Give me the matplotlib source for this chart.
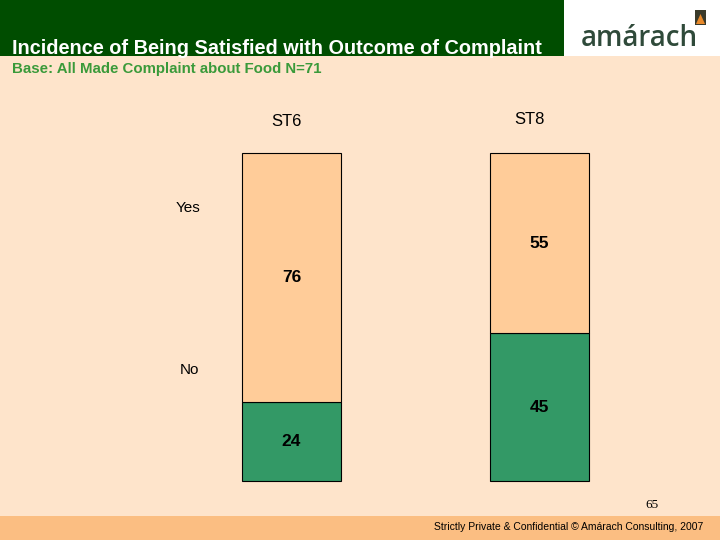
import matplotlib
matplotlib.use("Agg")
import matplotlib.pyplot as plt
from matplotlib.patches import Rectangle, Polygon

categories = ["ST6", "ST8"]
no_vals = [24, 45]
yes_vals = [76, 55]
series_names = ["Yes", "No"]

title = "Incidence of Being Satisfied with Outcome of Complaint"
subtitle = "Base: All Made Complaint about Food N=71"
footer = "Strictly Private & Confidential \u00a9 Am\u00e1rach Consulting, 2007"
page_no = "65"

BG = "#FEE4CB"
YES_C = "#FFCC99"
NO_C = "#339966"
HDR = "#004D00"

plt.rcParams['font.family'] = ['Liberation Sans', 'DejaVu Sans']
fig = plt.figure(figsize=(7.2, 5.4), dpi=100)
fig.patch.set_facecolor(BG)

W, H = 720, 540
def fx(p): return p / W
def fy(p): return 1 - p / H

# header
fig.patches.append(Rectangle((0, fy(56)), fx(564), 56 / H, transform=fig.transFigure,
                             facecolor=HDR, edgecolor="none", zorder=0))
fig.patches.append(Rectangle((fx(564), fy(56)), fx(156), 56 / H, transform=fig.transFigure,
                             facecolor="white", edgecolor="none", zorder=0))
# footer band
fig.patches.append(Rectangle((0, 0), 1, 24 / H, transform=fig.transFigure,
                             facecolor="#FBBE82", edgecolor="none", zorder=0))

fig.text(fx(12), fy(48), title, color="white", fontsize=14.3, fontweight="bold",
         va="center", ha="left")
fig.text(fx(12), fy(69), subtitle, color="#3A9A3A", fontsize=10.8, fontweight="bold",
         va="center", ha="left")

# logo
fig.text(fx(639), fy(38), "am\u00e1rach", color="#2F4A3A", fontsize=20,
         family=["Open Sans", "DejaVu Sans"], fontweight="semibold", va="center", ha="center")
fig.patches.append(Rectangle((fx(695), fy(25)), fx(11), 15 / H, transform=fig.transFigure,
                             facecolor="#3A3A2A", edgecolor="none", zorder=2))
fig.patches.append(Polygon([(fx(696), fy(24)), (fx(705), fy(24)), (fx(700.5), fy(14))],
                           closed=True, transform=fig.transFigure,
                           facecolor="#E8892A", edgecolor="none", zorder=3))

fig.text(fx(703), fy(527), footer, fontsize=7.5, ha="right", va="center", color="black")
fig.text(fx(652), fy(505), page_no, fontsize=9.5, ha="center", va="center",
         family=["Liberation Serif", "DejaVu Serif"], color="black")

# chart axes
ax = fig.add_axes([fx(167.5), (540 - 481) / H, 496 / W, 328 / H])
ax.set_facecolor("none")
ax.set_xlim(-0.5, 1.5)
ax.set_ylim(0, 100)
ax.axis("off")

x = list(range(len(categories)))
bw = 99 / 248
b1 = ax.bar(x, no_vals, width=bw, color=NO_C, edgecolor="black", linewidth=0.8)
b2 = ax.bar(x, yes_vals, width=bw, bottom=no_vals, color=YES_C, edgecolor="black", linewidth=0.8)
for p in list(b1) + list(b2):
    p.set_clip_on(False)

for xi, n, yv in zip(x, no_vals, yes_vals):
    ax.text(xi, n / 2, f"{n}", ha="center", va="center", fontsize=12.5, fontweight="bold")
    ax.text(xi, n + yv / 2, f"{yv}", ha="center", va="center", fontsize=12.5, fontweight="bold")

# category labels
cat_y = [121, 120]
cat_x = [286, 529]
for c, cx, cy in zip(categories, cat_x, cat_y):
    fig.text(fx(cx), fy(cy), c, fontsize=12, ha="center", va="center")

# series labels
fig.text(fx(188), fy(208), series_names[0], fontsize=11, ha="center", va="center")
fig.text(fx(189), fy(370), series_names[1], fontsize=11, ha="center", va="center")

fig.savefig("out.png", dpi=100, facecolor=BG)
